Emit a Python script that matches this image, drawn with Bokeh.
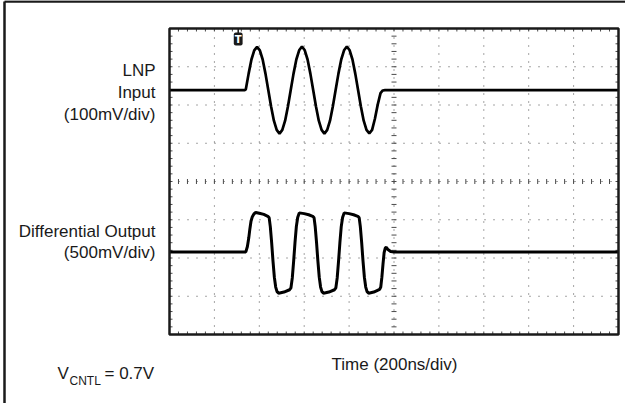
from bokeh.plotting import figure
from bokeh.models import Range1d, Label
from bokeh.embed import file_html
from bokeh.resources import INLINE

# ---------------- data ----------------
# time in ns (200 ns/div, 10 div), amplitude in mV
t_in = [0, 335, 340, 352.5, 365, 377.5, 390, 402.5, 415, 427.5, 440, 452.5, 465, 477.5,
        490, 502.5, 515, 527.5, 540, 552.5, 565, 577.5, 590, 602.5, 615, 627.5, 640,
        652.5, 665, 677.5, 690, 702.5, 715, 727.5, 740, 752.5, 765, 777.5, 790, 802.5,
        815, 827.5, 840, 852.5, 865, 877.5, 890, 902.5, 915, 927.5, 940, 950, 960, 2000]
v_in = [0, 0, 2, 43, 80, 104, 113, 104, 80, 43, 0, -43, -80, -104,
        -114, -104, -80, -43, 0, 43, 80, 104, 114, 104, 80, 43, 0,
        -43, -80, -104, -114, -104, -80, -43, 0, 43, 80, 104, 114, 104,
        80, 43, 0, -43, -80, -104, -113, -104, -75, -38, -8, -1, 0, 0]

t_out = [0, 340, 347, 353, 358, 363, 369, 376, 384, 400, 420, 438,
         444, 449, 455, 461, 467, 473, 479, 486, 510, 535,
         541, 547, 553, 559, 565, 571, 578, 600, 620, 638,
         644, 649, 655, 661, 667, 673, 679, 686, 710, 735,
         741, 747, 753, 759, 765, 771, 778, 800, 820, 839,
         845, 850, 856, 862, 868, 874, 880, 887, 910, 936,
         941, 946, 951, 956, 961, 966, 973, 985, 995, 2000]
v_out = [0, 0, 70, 180, 300, 400, 460, 495, 515, 505, 490, 465,
         445, 330, 120, -120, -330, -460, -520, -540, -525, -495,
         -470, -340, -120, 120, 330, 450, 510, 500, 485, 465,
         445, 330, 120, -120, -330, -460, -520, -540, -525, -495,
         -470, -340, -120, 120, 330, 450, 510, 500, 485, 465,
         445, 330, 120, -120, -330, -460, -520, -540, -525, -490,
         -460, -330, -160, -10, 50, 60, 30, 5, 0, 0]

trigger_ns = 306
in_mv_per_div = 100
out_mv_per_div = 500
in_offset_div = 6.39     # screen position of channel 1 ground (div from bottom)
out_offset_div = 2.16    # screen position of channel 2 ground (div from bottom)
n_xdiv, n_ydiv = 10, 8
ns_per_div = 200
n_minor = 5

# ---------------- geometry (page pixels) ----------------
W, H = 625, 403
FL, FR, FT, FB = 177, 626, 36, 342          # scope screen edges on the page
NS_PX = n_xdiv * ns_per_div / (FR - FL)      # ns per pixel
DIV_PX = n_ydiv / (FB - FT)                  # div per pixel


def xp(px):
    return (px - FL) * NS_PX


def yp(py):
    return (FB - py) * DIV_PX


FONT = "Liberation Sans"
INK = "#1a1a1a"
GRID = "#4a4a4a"

y0, y1 = yp(8 + H), yp(8)
p = figure(width=W, height=H, output_backend="svg", toolbar_location=None,
           x_range=Range1d(xp(8), xp(8 + W)), y_range=Range1d(y0, y1),
           x_axis_type=None, y_axis_type=None, min_border=0)
p.background_fill_color = "white"
p.border_fill_color = "white"
p.outline_line_color = None
p.grid.visible = False

p.extra_y_ranges = {
    "in": Range1d((y0 - in_offset_div) * in_mv_per_div, (y1 - in_offset_div) * in_mv_per_div),
    "out": Range1d((y0 - out_offset_div) * out_mv_per_div, (y1 - out_offset_div) * out_mv_per_div),
}

t_end = n_xdiv * ns_per_div
x_major = [i * ns_per_div for i in range(n_xdiv + 1)]
y_major = list(range(n_ydiv + 1))
x_minor = [i * ns_per_div / n_minor for i in range(n_xdiv * n_minor + 1)]
y_minor = [i / n_minor for i in range(n_ydiv * n_minor + 1)]

# outer frame of the figure box (only top and left edges are in view)
p.segment(x0=[xp(12), xp(12)], y0=[yp(8.9), yp(8.9)], x1=[xp(900), xp(12)],
          y1=[yp(8.9), yp(700)], line_color=INK, line_width=2.5)

# dotted graticule
p.segment(x0=x_major[1:-1], y0=[0] * (n_xdiv - 1), x1=x_major[1:-1], y1=[n_ydiv] * (n_xdiv - 1),
          line_color=GRID, line_width=1, line_dash="1 7")
p.segment(x0=[0] * (n_ydiv - 1), y0=y_major[1:-1], x1=[t_end] * (n_ydiv - 1), y1=y_major[1:-1],
          line_color=GRID, line_width=1, line_dash="1 8")

# edge ticks (pointing inwards)
tl = 3
p.segment(x0=x_minor, y0=[0] * len(x_minor), x1=x_minor, y1=[tl * DIV_PX] * len(x_minor),
          line_color=GRID, line_width=1)
p.segment(x0=x_minor, y0=[n_ydiv] * len(x_minor), x1=x_minor,
          y1=[n_ydiv - tl * DIV_PX] * len(x_minor), line_color=GRID, line_width=1)
p.segment(x0=[0] * len(y_minor), y0=y_minor, x1=[tl * NS_PX] * len(y_minor), y1=y_minor,
          line_color=GRID, line_width=1)
p.segment(x0=[t_end] * len(y_minor), y0=y_minor, x1=[t_end - tl * NS_PX] * len(y_minor),
          y1=y_minor, line_color=GRID, line_width=1)

# centre cross ticks
cy, cx = n_ydiv / 2, t_end / 2
ct = 2.5
p.segment(x0=x_minor, y0=[cy - ct * DIV_PX] * len(x_minor), x1=x_minor,
          y1=[cy + ct * DIV_PX] * len(x_minor), line_color=GRID, line_width=1)
p.segment(x0=[cx - ct * NS_PX] * len(y_minor), y0=y_minor, x1=[cx + ct * NS_PX] * len(y_minor),
          y1=y_minor, line_color=GRID, line_width=1)

# traces
p.line(t_in, v_in, y_range_name="in", line_color="black", line_width=2.7)
p.line(t_out, v_out, y_range_name="out", line_color="black", line_width=3)

# scope screen border
p.quad(left=[0], right=[t_end], bottom=[0], top=[n_ydiv], fill_color=None,
       line_color=INK, line_width=2.5)

# trigger marker
p.segment(x0=[trigger_ns], y0=[n_ydiv], x1=[trigger_ns], y1=[n_ydiv - 5 * DIV_PX],
          line_color=INK, line_width=1.5)
p.add_layout(Label(x=trigger_ns, y=n_ydiv, y_offset=-4, text="T", text_color="white",
                   text_font="DejaVu Sans", text_font_style="bold",
                   text_font_size="10px", text_align="center", text_baseline="top",
                   background_fill_color=INK, padding=1, border_radius=2))


def txt(s, px, py, size=17, align="right", baseline="middle"):
    p.add_layout(Label(x=xp(px), y=yp(py), text=s, text_font=FONT,
                       text_font_size=f"{size}px", text_color=INK,
                       text_align=align, text_baseline=baseline))


txt("LNP", 163, 78)
txt("Input", 163, 100)
txt("(100mV/div)", 163, 122)
txt("Differential Output", 163, 239)
txt("(500mV/div)", 163, 260)
txt("Time (200ns/div)", 402, 372, align="center")
txt("V", 65, 381, align="left")
txt("CNTL", 77, 388, size=12, align="left")
txt("= 0.7V", 112, 381, align="left")

open("out.html", "w").write(file_html(p, INLINE))
